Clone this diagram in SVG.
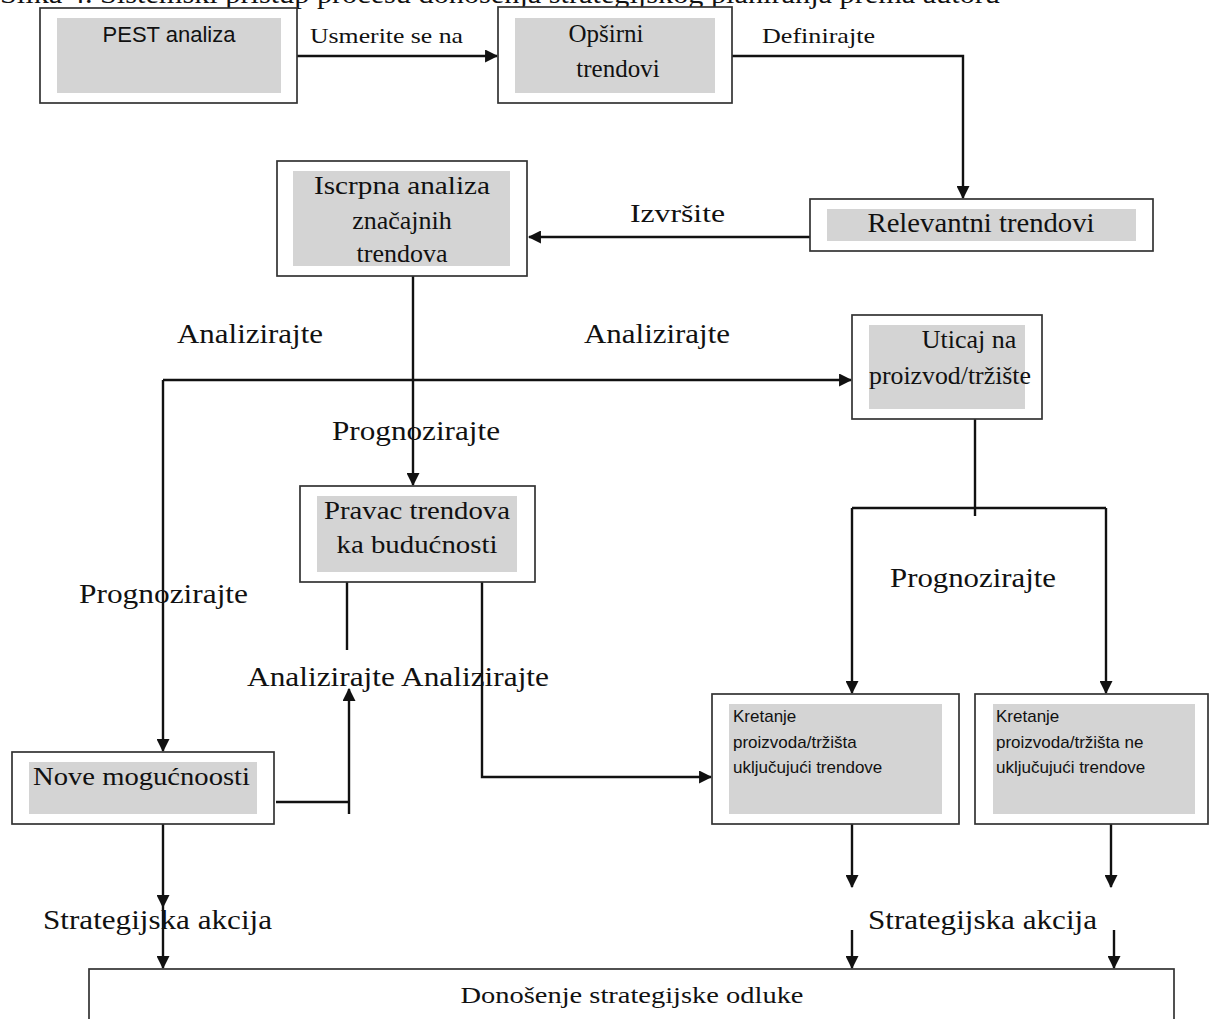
<svg xmlns="http://www.w3.org/2000/svg" width="1210" height="1019" viewBox="0 0 1210 1019">
  <defs>
    <marker id="arrow" viewBox="0 0 12 12" refX="11" refY="6" markerWidth="13" markerHeight="13" markerUnits="userSpaceOnUse" orient="auto">
      <path d="M0,0 L12,6 L0,12 Z" fill="#111"/>
    </marker>
    <style>
      .frame { fill: #ffffff; stroke: #333333; stroke-width: 1.7; }
      .fill { fill: #d4d4d4; stroke: none; }
      .serif { font-family: "Liberation Serif", "Times New Roman", serif; fill: #111; }
      .sans { font-family: "Liberation Sans", Arial, sans-serif; fill: #111; }
      .wire { fill: none; stroke: #111; stroke-width: 2.4; }
      .wire-a { fill: none; stroke: #111; stroke-width: 2.4; marker-end: url(#arrow); }
    </style>
  </defs>

  <rect x="0" y="0" width="1210" height="1019" fill="#ffffff"/>

  <!-- caption running off the top edge -->
  <text class="serif" x="0" y="3" font-size="28" textLength="1000" lengthAdjust="spacingAndGlyphs">Slika 4. Sistemski pristup procesu donošenja strategijskog planiranja prema autoru</text>

  <!-- connectors -->
  <g id="connectors">
    <path class="wire-a" d="M297,56 H497"/>
    <path class="wire-a" d="M732,56 H963 V198"/>
    <path class="wire-a" d="M815,237 H529"/>
    <path class="wire-a" d="M413,276 V485"/>
    <path class="wire-a" d="M163,380 H851"/>
    <path class="wire-a" d="M163,380 V751"/>
    <path class="wire" d="M975,419 V516"/>
    <path class="wire" d="M852,508 H1106"/>
    <path class="wire-a" d="M852,508 V693"/>
    <path class="wire-a" d="M1106,508 V693"/>
    <path class="wire" d="M347,582 V650"/>
    <path class="wire" d="M276,802 H349"/>
    <path class="wire-a" d="M349,814 V689"/>
    <path class="wire-a" d="M482,582 V777 H711"/>
    <path class="wire-a" d="M163,824 V907"/>
    <path class="wire-a" d="M163,907 V968"/>
    <path class="wire-a" d="M852,824 V887"/>
    <path class="wire-a" d="M852,930 V968"/>
    <path class="wire-a" d="M1111,824 V887"/>
    <path class="wire-a" d="M1114,930 V968"/>
  </g>

  <!-- connector labels -->
  <g id="labels">
    <text class="serif" x="310" y="43" font-size="22" textLength="153" lengthAdjust="spacingAndGlyphs">Usmerite se na</text>
    <text class="serif" x="762" y="43" font-size="22" textLength="113" lengthAdjust="spacingAndGlyphs">Definirajte</text>
    <text class="serif" x="630" y="222" font-size="26" textLength="95" lengthAdjust="spacingAndGlyphs">Izvršite</text>
    <text class="serif" x="177" y="343" font-size="27" textLength="146" lengthAdjust="spacingAndGlyphs">Analizirajte</text>
    <text class="serif" x="584" y="343" font-size="27" textLength="146" lengthAdjust="spacingAndGlyphs">Analizirajte</text>
    <text class="serif" x="332" y="440" font-size="27" textLength="168" lengthAdjust="spacingAndGlyphs">Prognozirajte</text>
    <text class="serif" x="79" y="603" font-size="27" textLength="169" lengthAdjust="spacingAndGlyphs">Prognozirajte</text>
    <text class="serif" x="890" y="587" font-size="27" textLength="166" lengthAdjust="spacingAndGlyphs">Prognozirajte</text>
    <text class="serif" x="247" y="686" font-size="27" textLength="302" lengthAdjust="spacingAndGlyphs">Analizirajte Analizirajte</text>
    <text class="serif" x="43" y="929" font-size="27" textLength="229" lengthAdjust="spacingAndGlyphs">Strategijska akcija</text>
    <text class="serif" x="868" y="929" font-size="27" textLength="229" lengthAdjust="spacingAndGlyphs">Strategijska akcija</text>
  </g>

  <!-- nodes -->
  <g id="node-pest">
    <rect class="frame" x="40" y="8" width="257" height="95"/>
    <rect class="fill" x="57" y="18" width="224" height="75"/>
    <text class="sans" x="169" y="42" font-size="22" text-anchor="middle">PEST analiza</text>
  </g>

  <g id="node-opsirni">
    <rect class="frame" x="498" y="7" width="234" height="96"/>
    <rect class="fill" x="515" y="18" width="200" height="75"/>
    <text class="serif" x="606" y="42" font-size="25" text-anchor="middle">Opširni</text>
    <text class="serif" x="618" y="77" font-size="25" text-anchor="middle">trendovi</text>
  </g>

  <g id="node-relevantni">
    <rect class="frame" x="810" y="199" width="343" height="52"/>
    <rect class="fill" x="827" y="209" width="309" height="32"/>
    <text class="serif" x="981" y="232" font-size="27" text-anchor="middle" textLength="227" lengthAdjust="spacingAndGlyphs">Relevantni trendovi</text>
  </g>

  <g id="node-iscrpna">
    <rect class="frame" x="277" y="161" width="250" height="115"/>
    <rect class="fill" x="293" y="171" width="217" height="95"/>
    <text class="serif" x="402" y="194" font-size="26" text-anchor="middle" textLength="176" lengthAdjust="spacingAndGlyphs">Iscrpna analiza</text>
    <text class="serif" x="402" y="229" font-size="26" text-anchor="middle">značajnih</text>
    <text class="serif" x="402" y="262" font-size="26" text-anchor="middle">trendova</text>
  </g>

  <g id="node-uticaj">
    <rect class="frame" x="852" y="315" width="190" height="104"/>
    <rect class="fill" x="869" y="325" width="156" height="84"/>
    <text class="serif" x="969" y="348" font-size="26" text-anchor="middle">Uticaj na</text>
    <text class="serif" x="950" y="384" font-size="26" text-anchor="middle" textLength="162" lengthAdjust="spacingAndGlyphs">proizvod/tržište</text>
  </g>

  <g id="node-pravac">
    <rect class="frame" x="300" y="486" width="235" height="96"/>
    <rect class="fill" x="317" y="496" width="200" height="76"/>
    <text class="serif" x="417" y="519" font-size="26" text-anchor="middle" textLength="186" lengthAdjust="spacingAndGlyphs">Pravac trendova</text>
    <text class="serif" x="417" y="553" font-size="26" text-anchor="middle" textLength="161" lengthAdjust="spacingAndGlyphs">ka budućnosti</text>
  </g>

  <g id="node-nove">
    <rect class="frame" x="12" y="752" width="262" height="72"/>
    <rect class="fill" x="29" y="762" width="228" height="52"/>
    <text class="serif" x="33" y="785" font-size="26" textLength="217" lengthAdjust="spacingAndGlyphs">Nove mogućnoosti</text>
  </g>

  <g id="node-kretanje-ukljucujuci">
    <rect class="frame" x="712" y="694" width="247" height="130"/>
    <rect class="fill" x="729" y="704" width="213" height="110"/>
    <text class="sans" x="733" y="722" font-size="17">Kretanje</text>
    <text class="sans" x="733" y="748" font-size="17">proizvoda/tržišta</text>
    <text class="sans" x="733" y="773" font-size="17">uključujući trendove</text>
  </g>

  <g id="node-kretanje-ne-ukljucujuci">
    <rect class="frame" x="975" y="694" width="233" height="130"/>
    <rect class="fill" x="993" y="704" width="202" height="110"/>
    <text class="sans" x="996" y="722" font-size="17">Kretanje</text>
    <text class="sans" x="996" y="748" font-size="17">proizvoda/tržišta ne</text>
    <text class="sans" x="996" y="773" font-size="17">uključujući trendove</text>
  </g>

  <g id="node-odluka">
    <rect class="frame" x="89" y="969" width="1085" height="70"/>
    <text class="serif" x="632" y="1003" font-size="24" text-anchor="middle" textLength="343" lengthAdjust="spacingAndGlyphs">Donošenje strategijske odluke</text>
  </g>
</svg>
